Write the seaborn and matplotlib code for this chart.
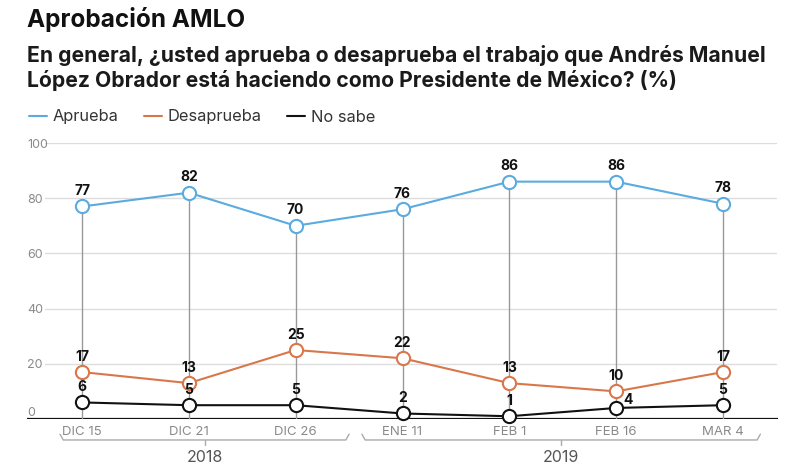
import matplotlib
matplotlib.use("Agg")
import matplotlib.pyplot as plt
import matplotlib.transforms as mtransforms
from matplotlib.lines import Line2D
import seaborn as sns
import numpy as np

fechas = ["DIC 15", "DIC 21", "DIC 26", "ENE 11", "FEB 1", "FEB 16", "MAR 4"]
aprueba = [77, 82, 70, 76, 86, 86, 78]
desaprueba = [17, 13, 25, 22, 13, 10, 17]
no_sabe = [6, 5, 5, 2, 1, 4, 5]
yticks = [0, 20, 40, 60, 80, 100]
years = ["2018", "2019"]

sns.set_theme(style="white")
plt.rcParams["font.family"] = ["Inter", "DejaVu Sans"]

C_AP = "#5aabdf"
C_DES = "#d9774a"
C_NS = "#111111"

fig = plt.figure(figsize=(8, 4.7), dpi=100)
ax = fig.add_axes([27/800, 51/470, (778-27)/800, 276/470])

x = np.arange(len(fechas))
ax.set_xlim(-(82-27)/106.8, 6 + (778-723)/106.8)
ax.set_ylim(0, 100)

# gridlines
for t in yticks[1:]:
    ax.plot([-0.35, 6.5], [t, t], color="#dddddd", lw=1, zorder=0)
# baseline
ax.axhline(0, color="#111111", lw=1.6, zorder=1)
# drop lines
ax.vlines(x, 0, aprueba, color="#999999", lw=1, zorder=1)

series = [("Aprueba", aprueba, C_AP), ("Desaprueba", desaprueba, C_DES), ("No sabe", no_sabe, C_NS)]
for name, vals, c in series:
    sns.lineplot(x=x, y=vals, ax=ax, color=c, lw=1.5, marker="o", ms=9.5,
                 mfc="white", mec=c, mew=1.5, clip_on=False, zorder=3, label=name)

for name, vals, c in series:
    for xi, v in zip(x, vals):
        if name == "No sabe" and fechas[xi] == "FEB 16":
            ax.annotate(str(v), (xi, v), xytext=(5, 1), textcoords="offset points",
                        ha="left", va="bottom", fontsize=10, fontweight="bold", color="#111111")
        else:
            ax.annotate(str(v), (xi, v), xytext=(0, 6), textcoords="offset points",
                        ha="center", va="bottom", fontsize=10, fontweight="bold", color="#111111")

# axis styling
for s in ax.spines.values():
    s.set_visible(False)
ax.set_yticks(yticks)
ax.set_yticklabels([str(t) for t in yticks])
ax.tick_params(axis="y", length=0, pad=0, labelsize=9, labelcolor="#8a8a8a")
for lab in ax.get_yticklabels():
    lab.set_ha("left")
ax.get_yticklabels()[0].set_va("bottom")
ax.set_xticks(x)
ax.set_xticklabels(fechas)
ax.tick_params(axis="x", length=0, pad=5, labelsize=9.5, labelcolor="#8a8a8a")
ax.set_xlabel("")
ax.set_ylabel("")

# year brackets
trans = mtransforms.blended_transform_factory(ax.transData, ax.transAxes)
yb = -0.076
yt = -0.055
brackets = [(-0.206, 2.5, years[0]), (2.62, 6.35, years[1])]
for x0, x1, lab in brackets:
    ax.plot([x0, x0 + 0.03, x1 - 0.03, x1], [yt, yb, yb, yt], transform=trans,
            color="#aaaaaa", lw=1, clip_on=False)
    xm = (x0 + x1) / 2
    ax.plot([xm, xm], [yb, yb - 0.02], transform=trans, color="#aaaaaa", lw=1, clip_on=False)
    ax.text(xm, -0.141, lab, transform=trans, ha="center", va="center",
            fontsize=11.5, color="#555555")

# legend
ax.get_legend().remove()
handles = [Line2D([0], [0], color=c, lw=1.5) for _, _, c in series]
fig.legend(handles, [n for n, _, _ in series], loc="center left", bbox_to_anchor=(14/800, 1 - 117/470),
           ncol=3, frameon=False, fontsize=11.8, handlelength=1.1, handletextpad=0.35,
           columnspacing=1.55, labelcolor="#333333")

# titles
fig.text(27/800, 1 - 20/470, "Aprobación AMLO", fontsize=17.5, fontweight="bold",
         color="#111111", va="center", ha="left")
fig.text(27/800, 1 - 68/470,
         "En general, ¿usted aprueba o desaprueba el trabajo que Andrés Manuel\nLópez Obrador está haciendo como Presidente de México? (%)",
         fontsize=15.2, fontweight="bold", color="#1a1a1a", va="center", ha="left", linespacing=1.28)

fig.savefig("out.png", dpi=100)
